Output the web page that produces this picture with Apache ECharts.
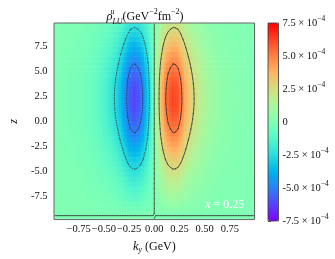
<!DOCTYPE html>
<html><head><meta charset="utf-8">
<script src="https://cdn.jsdelivr.net/npm/echarts@6/dist/echarts.min.js"></script>
<style>html,body{margin:0;padding:0;background:#fff}#c{width:335px;height:259px}</style>
</head><body><div id="c"></div>
<script>
// ---- data ----
const kyCenters = [-0.9875,-0.9625,-0.9375,-0.9125,-0.8875,-0.8625,-0.8375,-0.8125,-0.7875,-0.7625,-0.7375,-0.7125,-0.6875,-0.6625,-0.6375,-0.6125,-0.5875,-0.5625,-0.5375,-0.5125,-0.4875,-0.4625,-0.4375,-0.4125,-0.3875,-0.3625,-0.3375,-0.3125,-0.2875,-0.2625,-0.2375,-0.2125,-0.1875,-0.1625,-0.1375,-0.1125,-0.0875,-0.0625,-0.0375,-0.0125,
0.0125,0.0375,0.0625,0.0875,0.1125,0.1375,0.1625,0.1875,0.2125,0.2375,0.2625,0.2875,0.3125,0.3375,0.3625,0.3875,0.4125,0.4375,0.4625,0.4875,0.5125,0.5375,0.5625,0.5875,0.6125,0.6375,0.6625,0.6875,0.7125,0.7375,0.7625,0.7875,0.8125,0.8375,0.8625,0.8875,0.9125,0.9375,0.9625,0.9875];
const kyProfile = [-0.012,-0.014,-0.016,-0.018,-0.021,-0.024,-0.028,-0.032,-0.037,-0.043,-0.05,-0.058,-0.068,-0.08,-0.095,-0.11,-0.13,-0.155,-0.18,-0.21,-0.245,-0.28,-0.32,-0.37,-0.42,-0.48,-0.555,-0.645,-0.75,-0.86,-0.95,-0.99,-1.0,-0.96,-0.90,-0.80,-0.66,-0.51,-0.33,-0.11,
0.11,0.33,0.51,0.66,0.80,0.90,0.96,1.0,0.99,0.95,0.86,0.75,0.645,0.555,0.48,0.42,0.37,0.32,0.28,0.245,0.21,0.18,0.155,0.13,0.11,0.095,0.08,0.068,0.058,0.05,0.043,0.037,0.032,0.028,0.024,0.021,0.018,0.016,0.014,0.012];
const zCenters = [-9.75,-9.25,-8.75,-8.25,-7.75,-7.25,-6.75,-6.25,-5.75,-5.25,-4.75,-4.25,-3.75,-3.25,-2.75,-2.25,-1.75,-1.25,-0.75,-0.25,
0.25,0.75,1.25,1.75,2.25,2.75,3.25,3.75,4.25,4.75,5.25,5.75,6.25,6.75,7.25,7.75,8.25,8.75,9.25,9.75];
const zProfile = [-0.02,0.015,0.06,0.105,0.15,0.19,0.229,0.268,0.311,0.358,0.408,0.462,0.517,0.574,0.632,0.689,0.744,0.797,0.846,0.889,
0.927,0.958,0.980,0.995,1.0,0.996,0.984,0.963,0.934,0.898,0.855,0.807,0.755,0.700,0.643,0.586,0.528,0.472,0.419,0.368];
const peakValue = 6.2e-4;
const contourLevels = [-5e-4, -2.5e-4, 0, 2.5e-4, 5e-4];
const xTicks = [-0.75,-0.5,-0.25,0,0.25,0.5,0.75];
const xTickLabels = ['\u22120.75','\u22120.50','\u22120.25','0.00','0.25','0.50','0.75'];
const yTicks = [-7.5,-5,-2.5,0,2.5,5,7.5];
const yTickLabels = ['-7.5','-5.0','-2.5','0.0','2.5','5.0','7.5'];
const cbTicks = [-7.5e-4,-5e-4,-2.5e-4,0,2.5e-4,5e-4,7.5e-4];
const cbLabels = ['-7.5 \u00d7 10^\u22124','-5.0 \u00d7 10^\u22124','-2.5 \u00d7 10^\u22124','0','2.5 \u00d7 10^\u22124','5.0 \u00d7 10^\u22124','7.5 \u00d7 10^\u22124'];

// ---- build table ----
const gridVals = zCenters.map((z, j) => kyCenters.map((k, i) => peakValue * kyProfile[i] * zProfile[j]));
const heat = [];
zCenters.forEach((z, j) => kyCenters.forEach((k, i) => heat.push([k, z, gridVals[j][i]])));

function contourSegments(xs, ys, g, level) {
  const segs = [];
  for (let j = 0; j < ys.length - 1; j++) for (let i = 0; i < xs.length - 1; i++) {
    const c = [[xs[i], ys[j], g[j][i]], [xs[i+1], ys[j], g[j][i+1]], [xs[i+1], ys[j+1], g[j+1][i+1]], [xs[i], ys[j+1], g[j+1][i]]];
    const pts = [];
    for (let e = 0; e < 4; e++) {
      const a = c[e], b = c[(e+1) % 4];
      const da = a[2] - level, db = b[2] - level;
      if ((da < 0) !== (db < 0)) {
        const t = da / (da - db);
        pts.push([a[0] + t * (b[0] - a[0]), a[1] + t * (b[1] - a[1])]);
      }
    }
    if (pts.length === 2) segs.push([pts[0][0], pts[0][1], pts[1][0], pts[1][1], level]);
    else if (pts.length === 4) {
      const center = (c[0][2] + c[1][2] + c[2][2] + c[3][2]) / 4;
      if ((center < level) === (c[0][2] < level)) {
        segs.push([pts[0][0], pts[0][1], pts[1][0], pts[1][1], level]);
        segs.push([pts[2][0], pts[2][1], pts[3][0], pts[3][1], level]);
      } else {
        segs.push([pts[0][0], pts[0][1], pts[3][0], pts[3][1], level]);
        segs.push([pts[1][0], pts[1][1], pts[2][0], pts[2][1], level]);
      }
    }
  }
  return segs;
}
let segs = [];
contourLevels.forEach(L => { segs = segs.concat(contourSegments(kyCenters, zCenters, gridVals, L)); });

// matplotlib "rainbow" colormap stops
const rainbow = [];
for (let k = 0; k <= 20; k++) {
  const x = k / 20;
  const r = Math.min(1, Math.abs(2 * x - 0.5)), g = Math.sin(Math.PI * x), b = Math.max(0, Math.cos(Math.PI * x / 2));
  rainbow.push('rgb(' + Math.round(r * 255) + ',' + Math.round(g * 255) + ',' + Math.round(b * 255) + ')');
}

const FONT = 'Liberation Serif';
const pick = (arr, ticks, v) => { const i = ticks.findIndex(t => Math.abs(t - v) < 1e-12); return i < 0 ? '' : arr[i]; };
const dk = 0.025, dz = 0.5;

const chart = echarts.init(document.getElementById('c'), null, {renderer: 'canvas', width: 335, height: 259});
chart.setOption({
  animation: false,
  backgroundColor: '#fff',
  title: {
    text: '{i|\u03c1}{su|u}{sb|LU}{n|(GeV}{sp|\u22122}{n|fm}{sp|\u22122}{n|)}',
    left: 145, top: 7.5, textAlign: 'center', padding: 0,
    textStyle: {
      fontFamily: FONT, fontSize: 12, fontWeight: 'normal', color: '#111', lineHeight: 18,
      rich: {
        i: {fontFamily: FONT, fontSize: 12.5, fontStyle: 'italic', color: '#111', lineHeight: 18},
        su: {fontFamily: FONT, fontSize: 8, fontStyle: 'italic', color: '#111', lineHeight: 8, verticalAlign: 'top', width: 0},
        sb: {fontFamily: FONT, fontSize: 8, fontStyle: 'italic', color: '#111', lineHeight: 10, verticalAlign: 'bottom'},
        n: {fontFamily: FONT, fontSize: 12, color: '#111', lineHeight: 18},
        sp: {fontFamily: FONT, fontSize: 8, color: '#111', lineHeight: 8, verticalAlign: 'top'}
      }
    }
  },
  grid: [
    {left: 41, top: 23, width: 213.5, height: 198, show: true, borderColor: '#666', borderWidth: 1, backgroundColor: 'transparent', z: 5, containLabel: false},
    {left: 268, top: 23, width: 10.5, height: 198, show: true, borderColor: '#333', borderWidth: 0.8, backgroundColor: 'transparent', z: 10, containLabel: false}
  ],
  xAxis: [
    {type: 'value', gridIndex: 0, min: -0.995, max: 0.995,
     axisLine: {show: false}, splitLine: {show: false},
     axisTick: {show: true, customValues: xTicks, length: 3.5, lineStyle: {color: '#333', width: 0.8}},
     axisLabel: {customValues: xTicks, formatter: v => pick(xTickLabels, xTicks, v), fontFamily: FONT, fontSize: 10.5, color: '#111', margin: 4.5},
     name: '{i|k}{sb|y}{n| (GeV)}', nameLocation: 'middle', nameGap: 17,
     nameTextStyle: {fontFamily: FONT, fontSize: 12, color: '#111', lineHeight: 14, verticalAlign: 'top',
       rich: {i: {fontFamily: FONT, fontSize: 12.5, fontStyle: 'italic', color: '#111', lineHeight: 14},
              sb: {fontFamily: FONT, fontSize: 8, fontStyle: 'italic', color: '#111', lineHeight: 8, verticalAlign: 'bottom'},
              n: {fontFamily: FONT, fontSize: 12, color: '#111', lineHeight: 14}}}},
    {type: 'value', gridIndex: 1, min: 0, max: 1, show: false}
  ],
  yAxis: [
    {type: 'value', gridIndex: 0, min: -9.86, max: 9.86,
     axisLine: {show: false}, splitLine: {show: false},
     axisTick: {show: true, customValues: yTicks, length: 3.5, lineStyle: {color: '#333', width: 0.8}},
     axisLabel: {customValues: yTicks, formatter: v => pick(yTickLabels, yTicks, v), fontFamily: FONT, fontSize: 10.5, color: '#111', margin: 6.5},
     name: 'z', nameLocation: 'middle', nameRotate: 90, nameGap: 34,
     nameTextStyle: {fontFamily: FONT, fontSize: 12, fontStyle: 'italic', color: '#111'}},
    {type: 'value', gridIndex: 1, min: -7.5e-4, max: 7.5e-4, position: 'right',
     axisLine: {show: false}, splitLine: {show: false},
     axisTick: {show: true, customValues: cbTicks, length: 3, lineStyle: {color: '#333', width: 0.8}},
     axisLabel: {customValues: cbTicks, margin: 4,
       formatter: v => { const s = pick(cbLabels, cbTicks, v); const p = s.split('^'); return p.length > 1 ? p[0] + '{s|' + p[1] + '}' : s; },
       fontFamily: FONT, fontSize: 10.5, color: '#111', lineHeight: 15,
       rich: {s: {fontFamily: FONT, fontSize: 7.5, color: '#111', lineHeight: 8, verticalAlign: 'top'}}}}
  ],
  visualMap: {
    type: 'continuous', seriesIndex: 0, dimension: 2, min: -7.5e-4, max: 7.5e-4,
    inRange: {color: rainbow}, orient: 'vertical', left: 268, top: 23, itemWidth: 10.5, itemHeight: 198,
    padding: 0, calculable: false, realtime: false, hoverLink: false, text: null, show: true,
    textStyle: {color: 'transparent'}
  },
  graphic: [{
    type: 'text', left: 205, top: 198, z: 100,
    style: {text: '{i|x}{n| = 0.25}', fill: '#fff',
      rich: {i: {fontFamily: FONT, fontSize: 12.5, fontStyle: 'italic', fill: '#fff'}, n: {fontFamily: FONT, fontSize: 12, fill: '#fff'}}}
  }],
  series: [
    {type: 'custom', xAxisIndex: 0, yAxisIndex: 0, data: heat, clip: true, progressive: 0, silent: true,
     encode: {x: 0, y: 1},
     renderItem: (params, api) => {
       const p = api.coord([api.value(0), api.value(1)]);
       const s = api.size([dk, dz]);
       return {type: 'rect', shape: {x: p[0] - s[0] / 2 - 0.3, y: p[1] - s[1] / 2 - 0.3, width: s[0] + 0.6, height: s[1] + 0.6},
               style: {fill: api.visual('color')}};
     }},
    {type: 'custom', xAxisIndex: 0, yAxisIndex: 0, data: segs, clip: true, progressive: 0, silent: true, z: 3,
     encode: {x: [0, 2], y: [1, 3]},
     renderItem: (params, api) => {
       const a = api.coord([api.value(0), api.value(1)]);
       const b = api.coord([api.value(2), api.value(3)]);
       const neg = api.value(4) < 0;
       return {type: 'line', shape: {x1: a[0], y1: a[1], x2: b[0], y2: b[1]},
               style: {stroke: '#2a2a2a', lineWidth: 0.8, lineCap: neg ? 'butt' : 'round', lineDash: neg ? [1.6, 1] : null, opacity: 0.9}};
     }},
    {type: 'custom', xAxisIndex: 1, yAxisIndex: 1, data: [], renderItem: () => null}
  ]
});
</script></body></html>
